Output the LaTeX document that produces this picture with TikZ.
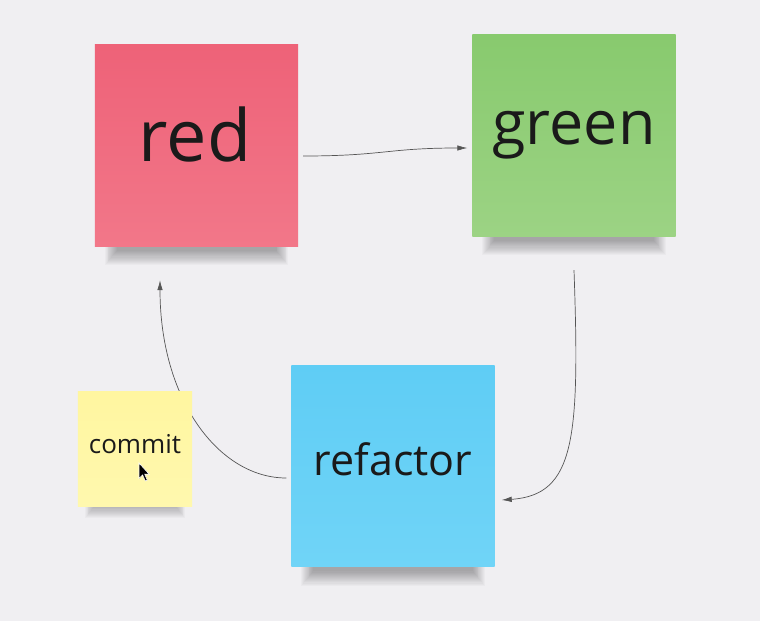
\documentclass[tikz,border=0pt]{standalone}
\usepackage{fontspec}
\setmainfont{Open Sans}
\usetikzlibrary{arrows.meta}

\definecolor{board}{HTML}{F0EFF2}
\definecolor{redtop}{HTML}{EE6278}
\definecolor{redbot}{HTML}{F27789}
\definecolor{greentop}{HTML}{88CA6E}
\definecolor{greenbot}{HTML}{9CD384}
\definecolor{bluetop}{HTML}{5FCDF5}
\definecolor{bluebot}{HTML}{70D4F7}
\definecolor{yellowtop}{HTML}{FFF6A0}
\definecolor{yellowbot}{HTML}{FFF8AE}
\definecolor{ink}{HTML}{1A1A1A}
\definecolor{wire}{HTML}{555555}

\tikzset{
    note/.style={inner sep=0pt},
    bignote/.style={note,minimum width=203pt,minimum height=201pt},
    word/.style={text=ink,inner sep=0pt},
    flow/.style={wire,line width=0.7pt,-{Latex[length=10pt,width=5.5pt]}}
}

% soft shadow under the lower edge of a note
\newcommand{\noteshadow}[3]{%
    \foreach \i in {0,...,13}
        \fill[black,opacity=0.025] ([xshift={#2+0.9*\i}]#1.south west) rectangle ([xshift={-#2-0.9*\i},yshift={-#3+1.1*\i}]#1.south east);
}

\begin{document}
\begin{tikzpicture}[x=1pt,y=-1pt]
    \fill[board] (0,0) rectangle (760,621);
    \useasboundingbox (0,0) rectangle (760,621);

    % the three big notes
    \path (196.5,145.5) node[bignote] (red) {};
    \path (574,135.5) node[bignote] (green) {};
    \path (393,466) node[bignote] (refactor) {};
    \noteshadow{red}{10}{19}
    \noteshadow{green}{10}{19}
    \noteshadow{refactor}{10}{19}
    \shade[top color=redtop,bottom color=redbot] (red.north west) rectangle (red.south east);
    \shade[top color=greentop,bottom color=greenbot] (green.north west) rectangle (green.south east);
    \shade[top color=bluetop,bottom color=bluebot] (refactor.north west) rectangle (refactor.south east);
    \node[word,font=\fontsize{72}{80}\selectfont] (redtext) at (195,134) {red};
    \node[word,font=\fontsize{61}{70}\selectfont] (greentext) at (574,135) {green};
    \node[word,font=\fontsize{43}{50}\selectfont] (refactortext) at (393,459) {refactor};

    % arrows of the cycle
    \draw[flow] ([xshift=5pt,yshift=-10.5pt]red.east) .. controls +(80,0) and +(-80,0) .. ([xshift=-5pt,yshift=-12.5pt]green.west);
    \draw[flow] ([yshift=-34pt]green.south) .. controls +(6,170) and +(73,-5) .. ([xshift=7pt,yshift=-34pt]refactor.east);
    \draw[flow] ([xshift=-5pt,yshift=-12pt]refactor.west) .. controls +(-67,0) and +(0,120) .. ([xshift=-36.5pt,yshift=-34pt]red.south);

    % small note on top of the arrow
    \path (135,449) node[note,minimum width=114pt,minimum height=114pt] (commit) {};
    \noteshadow{commit}{7}{12}
    \shade[top color=yellowtop,bottom color=yellowbot] (commit.north west) rectangle (commit.south east);
    \node[word,font=\fontsize{26}{30}\selectfont] (committext) at (135,444) {commit};

    % mouse pointer
    \fill[black,draw=white,line width=0.6pt,shift={(139,463)}] (0,0) -- (0,15.5) -- (3.6,12) -- (6.3,18) -- (8.3,17.1) -- (5.7,11.2) -- (10.2,11.2) -- cycle;
\end{tikzpicture}
\end{document}
